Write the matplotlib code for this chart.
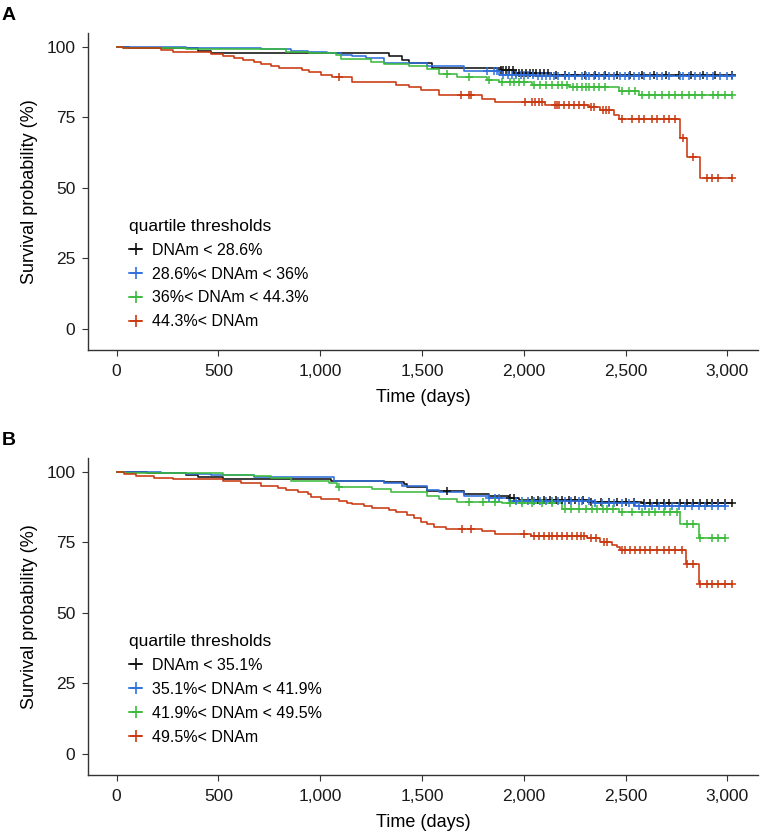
import numpy as np
import matplotlib
matplotlib.use('Agg')
import matplotlib.pyplot as plt
from matplotlib.lines import Line2D

plt.rcParams['font.family'] = ['Liberation Sans', 'DejaVu Sans']

COLORS = ['#111111', '#2e6fdb', '#3cba3c', '#c9380f']

# ---- panel A : quartile groups ----
A_labels = ['DNAm < 28.6%', '28.6%< DNAm < 36%', '36%< DNAm < 44.3%', '44.3%< DNAm']

A_black_t = [60, 399, 464, 1338, 1404, 1436, 1550, 1886, 1950, 2130]
A_black_s = [99.6, 98.6, 97.9, 96.5, 95.3, 94.3, 92.3, 91.6, 90.8, 89.8]
A_black_c = [1886, 1900, 1912, 1925, 1945, 1960, 1975, 1990, 2010, 2030, 2045, 2060,
             2080, 2100, 2120, 2160, 2200, 2250, 2300, 2350, 2400, 2460, 2520, 2580,
             2640, 2700, 2760, 2820, 2880, 2940, 3021]

A_blue_t = [342, 709, 856, 938, 1036, 1101, 1158, 1224, 1314, 1526, 1706, 1877, 2060]
A_blue_s = [99.4, 99.1, 98.6, 98.0, 97.6, 97.1, 96.5, 95.9, 94.1, 93.2, 91.2, 90.1, 89.7]
A_blue_c = [1819, 1853, 1868, 1900, 1920, 1940, 1960, 1985, 2000, 2020, 2045, 2070,
            2090, 2110, 2130, 2150, 2170, 2200, 2220, 2250, 2285, 2304, 2319, 2343,
            2368, 2392, 2417, 2441, 2474, 2498, 2515, 2539, 2564, 2588, 2621, 2654,
            2678, 2711, 2768, 2784, 2809, 2842, 2866, 2899, 2931, 2964, 2997, 3021]

A_green_t = [30, 342, 709, 832, 946, 1077, 1101, 1249, 1314, 1436, 1526, 1583, 1673,
             1819, 1877, 2041, 2221, 2466, 2564]
A_green_s = [99.6, 99.3, 99.0, 98.2, 97.6, 97.1, 95.5, 94.7, 93.9, 93.3, 92.0, 90.3,
             89.2, 88.0, 87.3, 86.5, 85.8, 84.4, 82.9]
A_green_c = [1624, 1730, 1828, 1894, 1930, 1950, 1975, 2000, 2050, 2080, 2110, 2140,
             2170, 2190, 2210, 2240, 2260, 2285, 2304, 2319, 2343, 2368, 2400, 2482,
             2515, 2547, 2580, 2613, 2646, 2678, 2711, 2744, 2776, 2809, 2842, 2874,
             2931, 2956, 2989, 3021]

A_red_t = [31, 219, 276, 464, 521, 578, 619, 676, 709, 758, 799, 913, 946, 1003, 1060,
           1158, 1371, 1436, 1494, 1583, 1796, 1861, 2106, 2319, 2376, 2441, 2466,
           2768, 2801, 2866]
A_red_s = [99.4, 98.8, 98.0, 97.4, 96.7, 96.0, 95.3, 94.6, 93.8, 93.0, 92.4, 91.6, 90.9,
           90.1, 89.4, 87.3, 86.5, 85.7, 84.7, 82.9, 81.5, 80.4, 79.3, 78.5, 77.6, 75.8,
           74.2, 67.8, 60.8, 53.6]
A_red_c = [1093, 1690, 1730, 1739, 2008, 2041, 2057, 2074, 2090, 2155, 2163, 2172, 2196,
           2221, 2245, 2270, 2294, 2330, 2345, 2390, 2405, 2420, 2482, 2531, 2564, 2588,
           2629, 2654, 2686, 2711, 2744, 2780, 2833, 2899, 2924, 2956, 3021]

# ---- panel B ----
B_labels = ['DNAm < 35.1%', '35.1%< DNAm < 41.9%', '41.9%< DNAm < 49.5%', '49.5%< DNAm']

B_black_t = [150, 342, 399, 521, 1052, 1314, 1412, 1428, 1526, 1706, 1828, 1926, 1975,
             2327, 2578]
B_black_s = [99.6, 98.8, 98.0, 97.2, 96.7, 96.2, 95.6, 94.5, 93.3, 92.0, 91.2, 90.6,
             90.0, 89.4, 89.0]
B_black_c = [1624, 1930, 1950, 2040, 2070, 2100, 2130, 2160, 2190, 2220, 2250, 2290,
             2330, 2380, 2420, 2460, 2500, 2540, 2588, 2621, 2654, 2686, 2711, 2768,
             2801, 2833, 2866, 2899, 2924, 2956, 2989, 3021]

B_blue_t = [219, 342, 464, 676, 1069, 1314, 1404, 1526, 1583, 1706, 1828, 1926, 2351, 2547]
B_blue_s = [99.6, 99.2, 98.8, 98.2, 96.8, 96.1, 94.9, 93.4, 92.7, 91.5, 90.6, 89.7, 89.0,
            87.8]
B_blue_c = [1828, 1860, 1880, 1960, 1990, 2020, 2050, 2080, 2110, 2140, 2170, 2200, 2230,
            2270, 2287, 2319, 2351, 2384, 2417, 2441, 2482, 2515, 2539, 2564, 2596, 2629,
            2662, 2695, 2727, 2760, 2793, 2825, 2858, 2891, 2923, 2956, 2989]

B_green_t = [40, 521, 676, 758, 856, 1044, 1085, 1257, 1347, 1526, 1583, 1673, 1894, 2186,
             2466, 2768, 2858]
B_green_s = [99.5, 98.9, 98.5, 97.9, 96.8, 96.1, 94.5, 93.8, 92.8, 91.4, 90.2, 89.4, 88.8,
             86.8, 85.8, 81.4, 76.4]
B_green_c = [1093, 1730, 1800, 1860, 1930, 1990, 2040, 2090, 2140, 2200, 2230, 2270, 2304,
             2335, 2360, 2390, 2410, 2440, 2482, 2531, 2580, 2613, 2646, 2686, 2720, 2750,
             2801, 2833, 2866, 2924, 2956, 2989]

B_red_t = [39, 96, 186, 276, 521, 611, 709, 791, 832, 889, 938, 954, 1003, 1093, 1134,
           1158, 1216, 1257, 1338, 1371, 1428, 1461, 1494, 1526, 1559, 1616, 1796, 1861,
           2033, 2310, 2376, 2433, 2457, 2474, 2796, 2858]
B_red_s = [99.2, 98.6, 97.9, 97.3, 96.8, 96.1, 94.9, 94.1, 93.5, 92.9, 92.0, 91.1, 90.2,
           89.7, 89.0, 88.6, 87.9, 87.0, 86.4, 85.8, 84.7, 83.5, 82.3, 81.4, 80.5, 79.8,
           79.1, 77.9, 77.2, 76.4, 75.2, 74.0, 73.2, 72.3, 67.2, 60.3]
B_red_c = [1698, 1739, 2000, 2049, 2074, 2098, 2123, 2139, 2164, 2188, 2213, 2237, 2262,
           2280, 2294, 2330, 2355, 2395, 2410, 2482, 2498, 2523, 2547, 2572, 2596, 2621,
           2654, 2686, 2711, 2744, 2776, 2801, 2833, 2866, 2899, 2924, 2956, 2989, 3021]

x_ticks = [0, 500, 1000, 1500, 2000, 2500, 3000]
x_ticklabels = ['0', '500', '1,000', '1,500', '2,000', '2,500', '3,000']
y_ticks = [0, 25, 50, 75, 100]


def km(ax, t, s, cens, color):
    tt = np.r_[0, t, max(max(cens), t[-1])]
    ss = np.r_[100, s, s[-1]]
    ax.step(tt, ss, where='post', color=color, lw=1.15, zorder=2)
    idx = np.searchsorted(tt, cens, side='right') - 1
    ax.plot(cens, ss[idx], '+', color=color, ms=6, mew=1.1, zorder=3)


def panel(ax, curves, labels, leg_y):
    for (t, s, c), col in zip(curves, COLORS):
        km(ax, t, s, c, col)
    ax.set_xlim(-140, 3150)
    ax.set_ylim(-7.4, 104.7)
    ax.set_xticks(x_ticks)
    ax.set_xticklabels(x_ticklabels)
    ax.set_yticks(y_ticks)
    ax.spines['top'].set_visible(False)
    ax.spines['right'].set_visible(False)
    for sp in ['left', 'bottom']:
        ax.spines[sp].set_color('#333333')
        ax.spines[sp].set_linewidth(1.0)
    ax.tick_params(direction='out', length=4.5, color='#333333', labelsize=12.5,
                   labelcolor='#1a1a1a')
    ax.tick_params(axis='x', pad=5.5)
    ax.tick_params(axis='y', pad=4.5)
    ax.set_xlabel('Time (days)', fontsize=13, labelpad=7)
    ax.set_ylabel('Survival probability (%)', fontsize=13, labelpad=6)
    handles = [Line2D([], [], color=col, marker='+', ms=8, mew=1.2, lw=1.2)
               for col in COLORS]
    leg = ax.legend(handles, labels, title='quartile thresholds', loc='upper left',
                    bbox_to_anchor=(0.052, leg_y), frameon=False, fontsize=11.5,
                    title_fontsize=12.5, handlelength=0.8, handletextpad=0.6,
                    labelspacing=0.56, borderaxespad=0)
    leg._legend_box.align = 'left'


fig = plt.figure(figsize=(7.6, 8.34), dpi=100)
axA = fig.add_axes([88 / 760, 1 - 350 / 834, 670 / 760, 316.7 / 834])
axB = fig.add_axes([88 / 760, 1 - 775 / 834, 670 / 760, 316.7 / 834])

panel(axA, [(A_black_t, A_black_s, A_black_c), (A_blue_t, A_blue_s, A_blue_c),
            (A_green_t, A_green_s, A_green_c), (A_red_t, A_red_s, A_red_c)],
      A_labels, 0.435)
panel(axB, [(B_black_t, B_black_s, B_black_c), (B_blue_t, B_blue_s, B_blue_c),
            (B_green_t, B_green_s, B_green_c), (B_red_t, B_red_s, B_red_c)],
      B_labels, 0.465)

fig.text(2 / 760, 1 - 15 / 834, 'A', fontsize=14, fontweight='bold', va='center')
fig.text(2 / 760, 1 - 440 / 834, 'B', fontsize=14, fontweight='bold', va='center')

fig.savefig('out.png', dpi=100)
